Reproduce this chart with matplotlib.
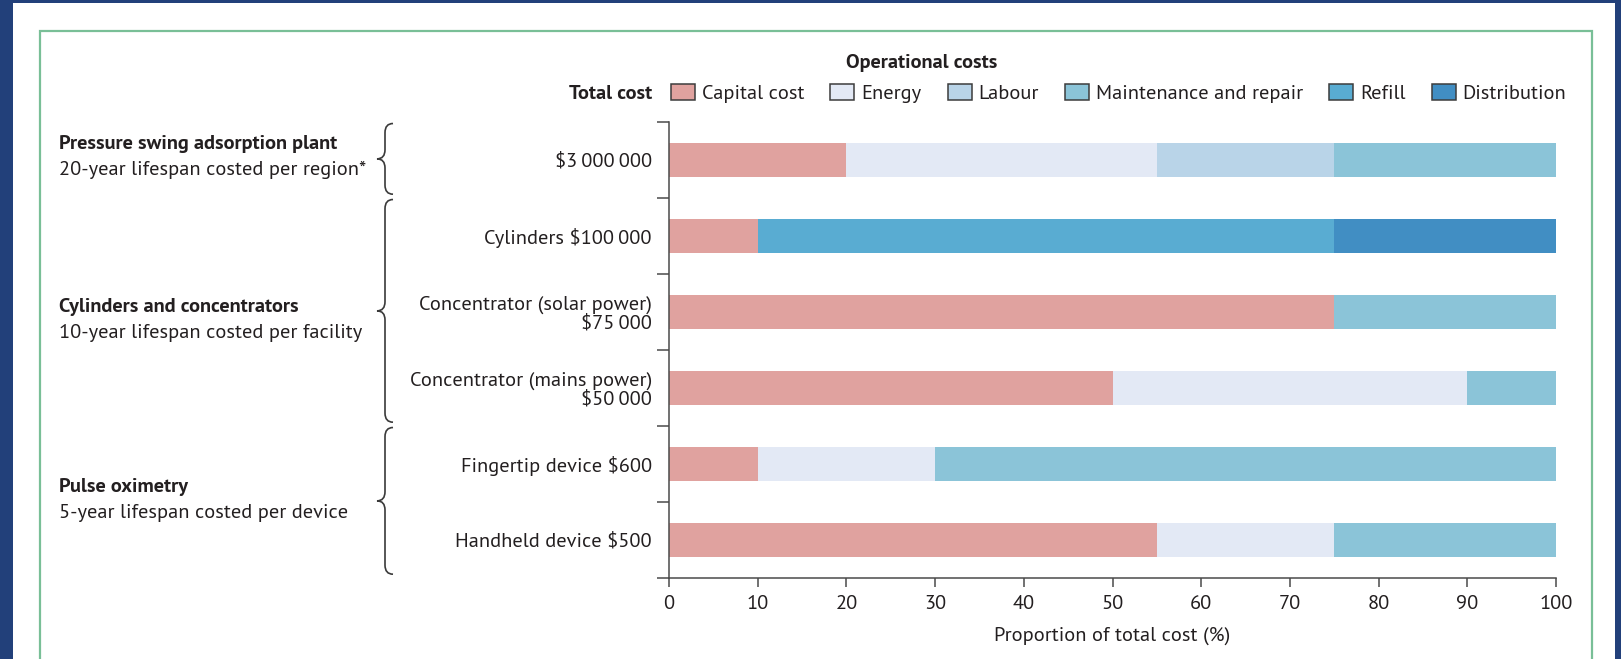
import matplotlib
matplotlib.use("Agg")
import matplotlib.pyplot as plt
from matplotlib.patches import Rectangle, PathPatch
from matplotlib.path import Path
from matplotlib.transforms import blended_transform_factory

# cost breakdown, percentage of total cost per item
items = [
    "$3\u2009000\u2009000",
    "Cylinders $100\u2009000",
    "Concentrator (solar power)\n$75\u2009000",
    "Concentrator (mains power)\n$50\u2009000",
    "Fingertip device $600",
    "Handheld device $500",
]
components = ["Capital cost", "Energy", "Labour", "Maintenance and repair",
              "Refill", "Distribution"]
capital = [20, 10, 75, 50, 10, 55]
energy = [35, 0, 0, 40, 20, 20]
labour = [20, 0, 0, 0, 0, 0]
maintenance = [25, 0, 25, 10, 70, 25]
refill = [0, 65, 0, 0, 0, 0]
distribution = [0, 25, 0, 0, 0, 0]
series = [capital, energy, labour, maintenance, refill, distribution]
colors = ["#e0a29f", "#e3e9f5", "#b9d4e8", "#8bc4d8", "#59acd2", "#418ec3"]

groups = [
    ("Pressure swing adsorption plant", "20-year lifespan costed per region*", 0, 0),
    ("Cylinders and concentrators", "10-year lifespan costed per facility", 1, 3),
    ("Pulse oximetry", "5-year lifespan costed per device", 4, 5),
]
group_text_y = [(144, 170), (307, 333), (487, 513)]

FONT = ["PT Sans", "IBM Plex Sans Condensed", "DejaVu Sans"]
TXT = "#231f20"
AXC = "#4a4a4a"
FS = 14.7
plt.rcParams["font.family"] = FONT

W, H = 1621, 659
fig = plt.figure(figsize=(W / 100, H / 100), dpi=100)
fig.patch.set_facecolor("#22407a")


def fx(x):
    return x / W


def fy(y):
    return 1 - y / H


# white panel and green frame
fig.patches.append(Rectangle((fx(13), 0), fx(1615 - 13), fy(3), transform=fig.transFigure,
                             facecolor="white", edgecolor="none", zorder=-2))
fig.patches.append(Rectangle((fx(39.5), -0.05), fx(1592 - 39.5), fy(31) + 0.05,
                             transform=fig.transFigure, facecolor="none",
                             edgecolor="#79bf97", lw=1.6, zorder=-1))

ax = fig.add_axes([fx(669), fy(578), fx(1556 - 669), (578 - 122) / H])
ax.set_facecolor("none")

ypos = list(range(len(items)))
left = [0] * len(items)
for vals, c in zip(series, colors):
    ax.barh(ypos, vals, left=left, height=0.46, color=c, edgecolor="none", zorder=2)
    left = [l + v for l, v in zip(left, vals)]

ax.set_xlim(0, 100)
ax.set_ylim(len(items) - 0.5, -0.5)
ax.set_xticks(range(0, 101, 10))
ax.set_yticks([i - 0.5 for i in range(len(items) + 1)])
ax.set_yticklabels([])
ax.set_yticks(ypos, minor=True)
ax.set_yticklabels(items, minor=True, fontsize=FS, color=TXT, ha="right",
                   linespacing=1.02)
ax.tick_params(axis="y", which="major", length=8.8, width=1.1, color=AXC)
ax.tick_params(axis="y", which="minor", length=0, pad=12.3)
ax.tick_params(axis="x", length=6.5, width=1.1, color=AXC, labelsize=FS,
               labelcolor=TXT, pad=5.5)
for s in ["top", "right"]:
    ax.spines[s].set_visible(False)
for s in ["left", "bottom"]:
    ax.spines[s].set_color(AXC)
    ax.spines[s].set_linewidth(1.1)
ax.set_xlabel("Proportion of total cost (%)", fontsize=FS, color=TXT, labelpad=10)

# group braces
tr = blended_transform_factory(ax.transAxes, ax.transData)
xr, xm, xt = (393 - 669) / 887, (385 - 669) / 887, (377 - 669) / 887
for (title, sub, r0, r1), (ty, sy) in zip(groups, group_text_y):
    y0, y1 = r0 - 0.48, r1 + 0.45
    yc = (y0 + y1) / 2
    d = 0.12
    verts = [(xr, y0), (xm, y0), (xm, y0 + d),
             (xm, yc - d), (xm, yc), (xt, yc),
             (xm, yc), (xm, yc + d),
             (xm, y1 - d), (xm, y1), (xr, y1)]
    codes = [Path.MOVETO, Path.CURVE3, Path.CURVE3,
             Path.LINETO, Path.CURVE3, Path.CURVE3,
             Path.CURVE3, Path.CURVE3,
             Path.LINETO, Path.CURVE3, Path.CURVE3]
    ax.add_patch(PathPatch(Path(verts, codes), transform=tr, fill=False,
                           edgecolor="#3a3a3a", lw=1.2, clip_on=False))
    fig.text(fx(59), fy(ty), title, fontsize=FS, fontweight="bold", color=TXT,
             va="center", ha="left")
    fig.text(fx(59), fy(sy), sub, fontsize=FS, color=TXT, va="center", ha="left")

# legend row
fig.text(fx(922), fy(63), "Operational costs", fontsize=FS, fontweight="bold",
         color=TXT, ha="center", va="center")
fig.text(fx(652), fy(94), "Total cost", fontsize=FS, fontweight="bold",
         color=TXT, ha="right", va="center")
fig.canvas.draw()
renderer = fig.canvas.get_renderer()
x = 671
for name, c in zip(components, colors):
    fig.patches.append(Rectangle((fx(x), fy(100)), fx(24), 16 / H,
                                 transform=fig.transFigure, facecolor=c,
                                 edgecolor="#3c3c3c", lw=1.1, zorder=3))
    t = fig.text(fx(x + 31), fy(94), name, fontsize=FS, color=TXT,
                 ha="left", va="center")
    w = t.get_window_extent(renderer).width
    x = x + 31 + w + 26

fig.savefig("out.png", dpi=100, facecolor=fig.get_facecolor())
